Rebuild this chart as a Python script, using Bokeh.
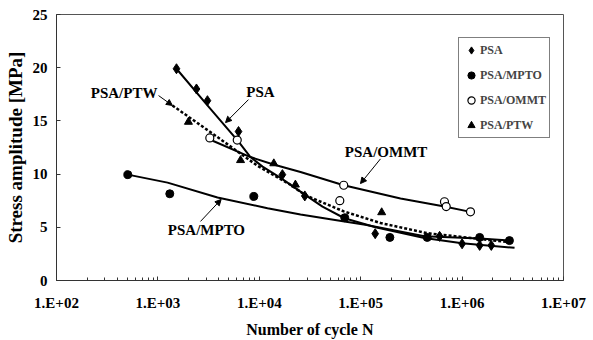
from bokeh.plotting import figure
from bokeh.models import (FixedTicker, CustomJSTickFormatter, Legend, LegendItem,
                          Label, Arrow, NormalHead)
from bokeh.embed import file_html
from bokeh.resources import INLINE

# ---- data ----
psa_n = [1525, 2400, 3080, 6240, 16900, 28100, 139000, 600000, 1.0e6, 1.49e6, 1.94e6]
psa_s = [19.9, 18.0, 16.9, 14.0, 9.95, 7.95, 4.4, 4.15, 3.45, 3.3, 3.3]

mpto_n = [505, 1310, 8830, 69600, 194000, 453000, 1.49e6, 2.93e6]
mpto_s = [9.95, 8.15, 7.9, 5.9, 4.05, 4.05, 4.05, 3.75]

ommt_n = [3250, 6060, 62200, 68000, 670000, 697000, 1.21e6]
ommt_s = [13.4, 13.2, 7.5, 8.95, 7.4, 6.95, 6.45]

ptw_n = [2000, 6530, 13900, 22700, 161000]
ptw_s = [14.9, 11.3, 11.0, 9.0, 6.4]

# trend curves
psa_fit_n = [1525, 3080, 6240, 8180, 10770, 16200, 27900, 42000, 69200, 140000, 425000, 1.0e6, 3.29e6]
psa_fit_s = [19.9, 16.45, 13.05, 11.6, 10.7, 9.65, 8.1, 6.95, 5.85, 5.0, 4.0, 3.5, 3.07]

mpto_fit_n = [505, 1245, 3870, 12050, 25500, 69200, 111000, 425000, 1.49e6, 2.93e6]
mpto_fit_s = [9.95, 9.2, 7.8, 6.8, 6.2, 5.55, 5.23, 4.15, 3.95, 3.75]

ommt_fit_n = [3250, 8180, 13800, 25500, 68000, 247000, 670000, 1.21e6]
ommt_fit_s = [13.25, 11.6, 10.9, 10.2, 8.95, 7.7, 6.95, 6.45]

ptw_fit_n = [1390, 3530, 9530, 20300, 28600, 68000, 157000, 452000, 1.41e6, 2.79e6]
ptw_fit_s = [16.45, 13.75, 10.8, 9.0, 8.0, 6.5, 5.4, 4.45, 3.93, 3.62]

x_ticks = [1e2, 1e3, 1e4, 1e5, 1e6, 1e7]
y_ticks = [0, 5, 10, 15, 20, 25]

FONT = "Liberation Serif"

p = figure(width=593, height=340, x_axis_type="log", x_range=(1e2, 1e7), y_range=(0, 25),
           output_backend="svg", toolbar_location=None,
           min_border_left=56, min_border_right=30, min_border_top=14, min_border_bottom=57)
p.xgrid.visible = False
p.ygrid.visible = False
p.outline_line_color = "#555555"
p.outline_line_width = 1
p.background_fill_color = "white"
p.border_fill_color = "white"

minor = [k * 10 ** d for d in range(2, 7) for k in range(2, 10)]
p.xaxis.ticker = FixedTicker(ticks=x_ticks, minor_ticks=minor)
p.xaxis.formatter = CustomJSTickFormatter(
    code="const e = Math.round(Math.log10(tick)); return '1.E+' + (e < 10 ? '0' : '') + e;")
p.yaxis.ticker = FixedTicker(ticks=y_ticks)

for ax in (p.xaxis, p.yaxis):
    ax.major_label_text_font = FONT
    ax.major_label_text_font_style = "bold"
    ax.major_label_text_font_size = "15px"
    ax.major_label_text_color = "black"
    ax.axis_label_text_font = FONT
    ax.axis_label_text_font_style = "bold"
    ax.axis_label_text_color = "black"
    ax.axis_line_color = "#333333"
    ax.major_tick_in = 4
    ax.major_tick_out = 0
    ax.minor_tick_in = 3
    ax.minor_tick_out = 0
    ax.major_tick_line_color = "#333333"
    ax.minor_tick_line_color = "#333333"

p.xaxis.axis_label = "Number of cycle N"
p.yaxis.axis_label = "Stress amplitude [MPa]"
p.xaxis.axis_label_text_font_size = "16px"
p.yaxis.axis_label_text_font_size = "19px"
p.xaxis.major_label_standoff = 14
p.xaxis.axis_label_standoff = 7
p.yaxis.major_label_standoff = 9
p.yaxis.axis_label_standoff = 4

# trend lines
p.line(psa_fit_n, psa_fit_s, line_color="black", line_width=2)
p.line(mpto_fit_n, mpto_fit_s, line_color="black", line_width=2)
p.line(ommt_fit_n, ommt_fit_s, line_color="black", line_width=2)
p.line(ptw_fit_n, ptw_fit_s, line_color="black", line_width=2.5, line_dash="3 2")

# markers
r_psa = p.scatter(psa_n, psa_s, marker="diamond", size=10, fill_color="black", line_color="black")
r_mpto = p.scatter(mpto_n, mpto_s, marker="circle", size=8, fill_color="black", line_color="black")
r_ommt = p.scatter(ommt_n, ommt_s, marker="circle", size=8, fill_color="white",
                   line_color="black", line_width=1.2)
r_ptw = p.scatter(ptw_n, ptw_s, marker="triangle", size=8, fill_color="black", line_color="black")

legend = Legend(items=[
    LegendItem(label="PSA", renderers=[r_psa]),
    LegendItem(label="PSA/MPTO", renderers=[r_mpto]),
    LegendItem(label="PSA/OMMT", renderers=[r_ommt]),
    LegendItem(label="PSA/PTW", renderers=[r_ptw]),
], location=(402, 142))
legend.label_text_font = FONT
legend.label_text_font_style = "bold"
legend.label_text_font_size = "12px"
legend.glyph_width = 18
legend.glyph_height = 18
legend.label_height = 18
legend.label_standoff = 0
legend.padding = 3
legend.spacing = 7
legend.margin = 0
legend.border_line_color = "black"
legend.border_line_width = 1
legend.background_fill_alpha = 1
p.add_layout(legend)

# annotations: text, text x, text y, align, arrow start x/y, arrow end x/y
ann = [
    ("PSA/PTW", 990, 17.66, "right", 1015, 17.38, 1390, 16.45),
    ("PSA", 10280, 17.69, "center", 7820, 17.0, 4645, 14.84),
    ("PSA/OMMT", 178000, 12.05, "center", 156700, 11.43, 99500, 9.11),
    ("PSA/MPTO", 3010, 4.71, "center", 2630, 5.55, 4205, 7.62),
]
for txt, tx, ty, align, xs, ys, xe, ye in ann:
    p.add_layout(Label(x=tx, y=ty, text=txt, text_align=align, text_baseline="middle",
                       text_font=FONT, text_font_style="bold", text_font_size="15px",
                       text_color="black"))
    p.add_layout(Arrow(x_start=xs, y_start=ys, x_end=xe, y_end=ye, line_color="black",
                       line_width=1,
                       end=NormalHead(size=6, fill_color="black", line_color="black")))

open("out.html", "w").write(file_html(p, INLINE))
